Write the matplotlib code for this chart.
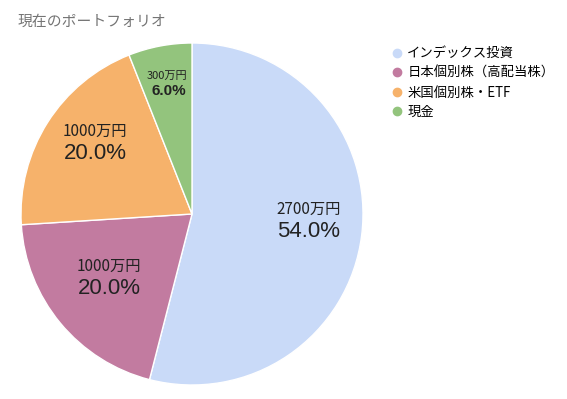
import matplotlib
matplotlib.use("Agg")
import matplotlib.pyplot as plt
import numpy as np
from matplotlib.lines import Line2D

plt.rcParams['font.family'] = ['Noto Sans CJK JP', 'DejaVu Sans']

categories = ["インデックス投資", "日本個別株（高配当株）", "米国個別株・ETF", "現金"]
amounts = [2700, 1000, 1000, 300]
amount_labels = ["2700万円", "1000万円", "1000万円", "300万円"]
colors = ["#c9daf8", "#c27ba0", "#f6b26b", "#93c47d"]

fig = plt.figure(figsize=(5.67, 3.99), dpi=100)
ax = fig.add_axes([21/567, 14/399, 342/567, 342/399])
wedges, _ = ax.pie(amounts, colors=colors, startangle=90, counterclock=False,
                   wedgeprops=dict(edgecolor="white", linewidth=1))
ax.set_xlim(-1, 1)
ax.set_ylim(-1, 1)
ax.set_aspect('equal')

total = sum(amounts)
# label placement: distance from centre, vertical shift
dists = [0.69, 0.63, 0.67, 0.78]
shifts = [0.05, 0.03, 0.06, 0.0]
for w, a, lab, d, s in zip(wedges, amounts, amount_labels, dists, shifts):
    ang = np.deg2rad((w.theta1 + w.theta2) / 2)
    x, y = d * np.cos(ang), d * np.sin(ang) + s
    pct = f"{a / total * 100:.1f}%"
    if a / total < 0.1:
        ax.text(x, y + 0.044, lab, ha='center', va='center', fontsize=8, color='#222222')
        ax.text(x + 0.01, y - 0.046, pct, ha='center', va='center', fontsize=11,
                fontweight='bold', color='#222222', family=['Liberation Sans', 'DejaVu Sans'])
    else:
        ax.text(x, y + 0.065, lab, ha='center', va='center', fontsize=11, color='#222222')
        ax.text(x, y - 0.065, pct, ha='center', va='center', fontsize=16, color='#222222',
                family=['Liberation Sans', 'DejaVu Sans'])

fig.text(18/567, 1 - 22/399, "現在のポートフォリオ", ha='left', va='center',
         fontsize=10.7, color='#757575')

handles = [Line2D([0], [0], marker='o', color='none', markerfacecolor=c,
                  markeredgecolor=c, markersize=6) for c in colors]
fig.legend(handles, categories, loc='upper left', bbox_to_anchor=(388/567, 1 - 41/399),
           frameon=False, fontsize=9.6, handlelength=0.6, handletextpad=0.45,
           labelspacing=0.42, borderaxespad=0)

fig.savefig("out.png", dpi=100)
